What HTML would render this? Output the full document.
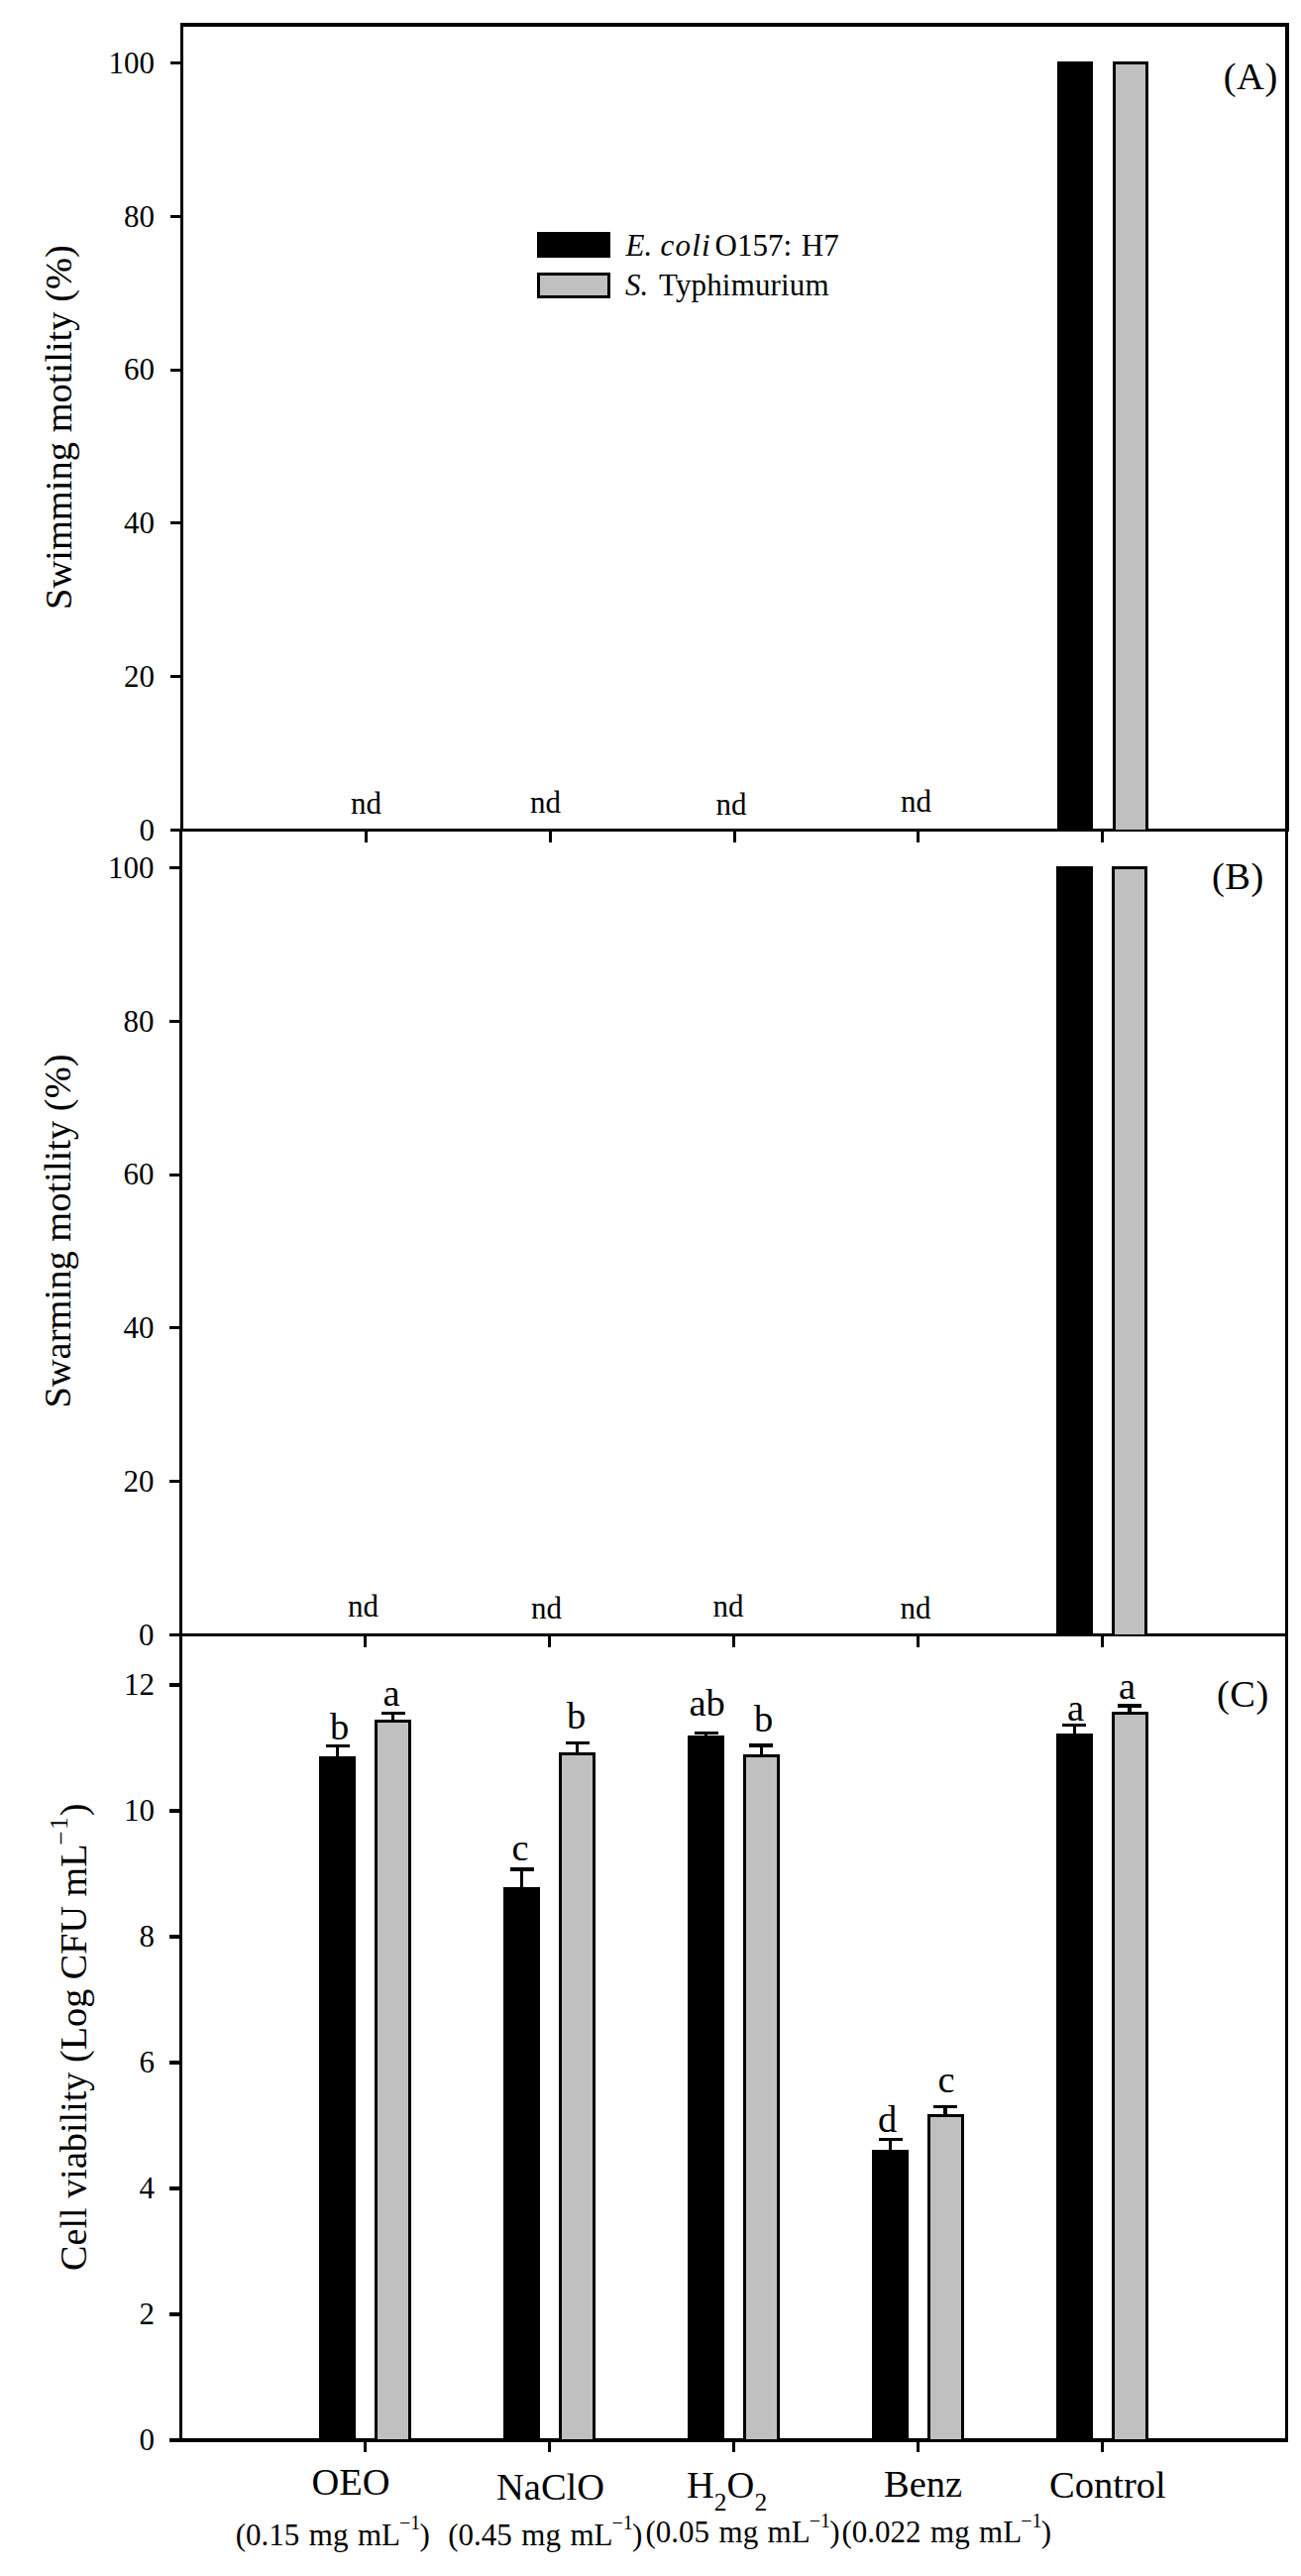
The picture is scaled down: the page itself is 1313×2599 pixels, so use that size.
<!DOCTYPE html>
<html lang="en"><head><meta charset="utf-8"><title>Motility and cell viability</title>
<style>
html,body{margin:0;padding:0;background:#fff}
svg{display:block}
text{font-family:"Liberation Serif","Times New Roman",serif;fill:#000}
</style></head><body>
<svg width="1313" height="2599" viewBox="0 0 1313 2599" shape-rendering="crispEdges">
<rect width="1313" height="2599" fill="#fff"/>
<rect x="182" y="23" width="1119" height="4" fill="#000"/>
<rect x="182" y="23" width="3" height="815" fill="#000"/>
<rect x="181" y="838" width="3" height="1626" fill="#000"/>
<rect x="1297" y="23" width="4" height="816" fill="#000"/>
<rect x="1297" y="839" width="3" height="1625" fill="#000"/>
<rect x="172" y="836" width="1129" height="3" fill="#000"/>
<rect x="171" y="1648" width="1129" height="3" fill="#000"/>
<rect x="171" y="2460" width="1129" height="4" fill="#000"/>
<rect x="172" y="62" width="10" height="3" fill="#000"/>
<text x="156" y="73.7" font-size="31" text-anchor="end">100</text>
<rect x="172" y="216.8" width="10" height="3" fill="#000"/>
<text x="156" y="228.5" font-size="31" text-anchor="end">80</text>
<rect x="172" y="371.6" width="10" height="3" fill="#000"/>
<text x="156" y="383.3" font-size="31" text-anchor="end">60</text>
<rect x="172" y="526.4" width="10" height="3" fill="#000"/>
<text x="156" y="538.1" font-size="31" text-anchor="end">40</text>
<rect x="172" y="681.2" width="10" height="3" fill="#000"/>
<text x="156" y="692.9" font-size="31" text-anchor="end">20</text>
<text x="156" y="847.7" font-size="31" text-anchor="end">0</text>
<rect x="171" y="874" width="10" height="3" fill="#000"/>
<text x="155.5" y="885.7" font-size="31" text-anchor="end">100</text>
<rect x="171" y="1028.8" width="10" height="3" fill="#000"/>
<text x="155.5" y="1040.5" font-size="31" text-anchor="end">80</text>
<rect x="171" y="1183.6" width="10" height="3" fill="#000"/>
<text x="155.5" y="1195.3" font-size="31" text-anchor="end">60</text>
<rect x="171" y="1338.4" width="10" height="3" fill="#000"/>
<text x="155.5" y="1350.1" font-size="31" text-anchor="end">40</text>
<rect x="171" y="1493.2" width="10" height="3" fill="#000"/>
<text x="155.5" y="1504.9" font-size="31" text-anchor="end">20</text>
<text x="155.5" y="1659.7" font-size="31" text-anchor="end">0</text>
<rect x="171" y="1698" width="10" height="4" fill="#000"/>
<text x="156" y="1709.7" font-size="31" text-anchor="end">12</text>
<rect x="171" y="1825" width="10" height="4" fill="#000"/>
<text x="156" y="1836.7" font-size="31" text-anchor="end">10</text>
<rect x="171" y="1952" width="10" height="4" fill="#000"/>
<text x="156" y="1963.7" font-size="31" text-anchor="end">8</text>
<rect x="171" y="2079" width="10" height="4" fill="#000"/>
<text x="156" y="2090.7" font-size="31" text-anchor="end">6</text>
<rect x="171" y="2206" width="10" height="4" fill="#000"/>
<text x="156" y="2217.7" font-size="31" text-anchor="end">4</text>
<rect x="171" y="2333" width="10" height="4" fill="#000"/>
<text x="156" y="2344.7" font-size="31" text-anchor="end">2</text>
<text x="156" y="2471.7" font-size="31" text-anchor="end">0</text>
<rect x="368" y="839" width="3" height="11" fill="#000"/>
<rect x="553.8" y="839" width="3" height="11" fill="#000"/>
<rect x="739.5" y="839" width="3" height="11" fill="#000"/>
<rect x="925.3" y="839" width="3" height="11" fill="#000"/>
<rect x="1111" y="839" width="3" height="11" fill="#000"/>
<rect x="367" y="1651" width="3" height="11" fill="#000"/>
<rect x="553" y="1651" width="3" height="11" fill="#000"/>
<rect x="739" y="1651" width="3" height="11" fill="#000"/>
<rect x="925" y="1651" width="3" height="11" fill="#000"/>
<rect x="1111" y="1651" width="3" height="11" fill="#000"/>
<rect x="367" y="2464" width="3" height="10" fill="#000"/>
<rect x="553" y="2464" width="3" height="10" fill="#000"/>
<rect x="739" y="2464" width="3" height="10" fill="#000"/>
<rect x="925" y="2464" width="3" height="10" fill="#000"/>
<rect x="1110.5" y="2464" width="3" height="10" fill="#000"/>
<rect x="1067" y="62" width="36" height="775" fill="#000"/>
<rect x="1123" y="62" width="36" height="775" fill="#000"/>
<rect x="1126" y="65" width="30" height="772" fill="#c0c0c0"/>
<rect x="1066" y="874" width="37" height="775" fill="#000"/>
<rect x="1122" y="874" width="36" height="775" fill="#000"/>
<rect x="1125" y="877" width="30" height="772" fill="#c0c0c0"/>
<rect x="322" y="1772" width="37" height="689" fill="#000"/>
<rect x="329" y="1760" width="24" height="3" fill="#000"/>
<rect x="339" y="1760" width="3" height="13" fill="#000"/>
<rect x="378" y="1735" width="37" height="726" fill="#000"/>
<rect x="381" y="1738" width="31" height="723" fill="#c0c0c0"/>
<rect x="385" y="1727" width="24" height="3" fill="#000"/>
<rect x="395" y="1727" width="3" height="9" fill="#000"/>
<rect x="508" y="1904" width="37" height="557" fill="#000"/>
<rect x="515" y="1884" width="24" height="4" fill="#000"/>
<rect x="525" y="1884" width="3" height="21" fill="#000"/>
<rect x="564" y="1768" width="37" height="693" fill="#000"/>
<rect x="567" y="1771" width="31" height="690" fill="#c0c0c0"/>
<rect x="571" y="1757" width="24" height="3" fill="#000"/>
<rect x="581" y="1757" width="3" height="12" fill="#000"/>
<rect x="694" y="1751" width="37" height="710" fill="#000"/>
<rect x="701" y="1747" width="24" height="3" fill="#000"/>
<rect x="711" y="1747" width="3" height="5" fill="#000"/>
<rect x="750" y="1770" width="37" height="691" fill="#000"/>
<rect x="753" y="1773" width="31" height="688" fill="#c0c0c0"/>
<rect x="756" y="1759" width="24" height="4" fill="#000"/>
<rect x="767" y="1759" width="3" height="12" fill="#000"/>
<rect x="880" y="2169" width="37" height="292" fill="#000"/>
<rect x="887" y="2157" width="24" height="3" fill="#000"/>
<rect x="897" y="2157" width="3" height="13" fill="#000"/>
<rect x="936" y="2133" width="37" height="328" fill="#000"/>
<rect x="939" y="2136" width="31" height="325" fill="#c0c0c0"/>
<rect x="942" y="2124" width="24" height="3" fill="#000"/>
<rect x="952" y="2124" width="4" height="10" fill="#000"/>
<rect x="1066" y="1749" width="37" height="712" fill="#000"/>
<rect x="1072" y="1739" width="24" height="3" fill="#000"/>
<rect x="1083" y="1739" width="3" height="11" fill="#000"/>
<rect x="1122" y="1727" width="37" height="734" fill="#000"/>
<rect x="1125" y="1730" width="31" height="731" fill="#c0c0c0"/>
<rect x="1128" y="1719" width="24" height="4" fill="#000"/>
<rect x="1138" y="1719" width="4" height="9" fill="#000"/>
<text x="333" y="1754.5" font-size="38.5" text-anchor="start">b</text>
<text x="386.5" y="1720.5" font-size="38.5" text-anchor="start">a</text>
<text x="516.5" y="1876.5" font-size="38.5" text-anchor="start">c</text>
<text x="572" y="1744" font-size="38.5" text-anchor="start">b</text>
<text x="695.5" y="1731" font-size="38.5" text-anchor="start">ab</text>
<text x="761" y="1747" font-size="38.5" text-anchor="start">b</text>
<text x="886" y="2151" font-size="38.5" text-anchor="start">d</text>
<text x="946.5" y="2111" font-size="38.5" text-anchor="start">c</text>
<text x="1077" y="1735.5" font-size="38.5" text-anchor="start">a</text>
<text x="1129" y="1713.5" font-size="38.5" text-anchor="start">a</text>
<text x="354" y="821" font-size="31" text-anchor="start">nd</text>
<text x="535" y="819.5" font-size="31" text-anchor="start">nd</text>
<text x="722.5" y="822" font-size="31" text-anchor="start">nd</text>
<text x="909" y="818.5" font-size="31" text-anchor="start">nd</text>
<text x="351" y="1631" font-size="31" text-anchor="start">nd</text>
<text x="536" y="1632.5" font-size="31" text-anchor="start">nd</text>
<text x="719.5" y="1630.5" font-size="31" text-anchor="start">nd</text>
<text x="908.5" y="1632.5" font-size="31" text-anchor="start">nd</text>
<text x="1234.8" y="89.8" font-size="38.5" text-anchor="start" letter-spacing="0.5">(A)</text>
<text x="1223" y="896.9" font-size="38.5" text-anchor="start" letter-spacing="0.5">(B)</text>
<text x="1228" y="1721.5" font-size="38.5" text-anchor="start" letter-spacing="0.5">(C)</text>
<rect x="542" y="234" width="74" height="26" fill="#000"/>
<rect x="542" y="275" width="74" height="26" fill="#000"/>
<rect x="545" y="278" width="68" height="23" fill="#c0c0c0"/>
<rect x="545" y="298" width="68" height="3" fill="#000"/>
<text y="257.5" font-size="31"><tspan x="631.5" font-style="italic">E.</tspan><tspan x="666.5" font-style="italic" letter-spacing="1.2">coli</tspan><tspan x="721.5">O157:</tspan><tspan x="801"> H7</tspan></text>
<text y="297.5" font-size="31"><tspan x="631" font-style="italic">S.</tspan><tspan x="665" letter-spacing="0.15">Typhimurium</tspan></text>
<text transform="translate(72 615) rotate(-90)" font-size="38.5">Swimming motility (%)</text>
<text transform="translate(71 1420.6) rotate(-90)" font-size="38.5">Swarming motility (%)</text>
<text transform="translate(87 2291) rotate(-90)" font-size="38.2">Cell viability (Log CFU mL<tspan font-size="25.5" dy="-17.3" dx="-1.5">−</tspan><tspan font-size="25.5" dy="-1.7" dx="1.5">1</tspan><tspan dy="19" dx="1">)</tspan></text>
<text x="314.5" y="2517" font-size="38.5" text-anchor="start">OEO</text>
<text x="501" y="2522" font-size="38.5" text-anchor="start">NaClO</text>
<text x="693" y="2520" font-size="38.5">H<tspan font-size="25.5" dy="12.8">2</tspan><tspan dy="-12.8">O</tspan><tspan font-size="25.5" dy="12.8">2</tspan></text>
<text x="892" y="2519" font-size="38.5" text-anchor="start">Benz</text>
<text x="1059" y="2519.5" font-size="38.5" text-anchor="start">Control</text>
<text x="237.8" y="2567.5" font-size="31" word-spacing="1.7">(0.15 mg mL<tspan font-size="20" dy="-15.5" dx="-1">−1</tspan><tspan dy="15.5" dx="-0.7">)</tspan></text>
<text x="452.3" y="2567.5" font-size="31" word-spacing="1.7">(0.45 mg mL<tspan font-size="20" dy="-15.5" dx="-1">−1</tspan><tspan dy="15.5" dx="-0.7">)</tspan></text>
<text x="651.5" y="2565" font-size="31" word-spacing="1.7">(0.05 mg mL<tspan font-size="20" dy="-15.5" dx="-1">−1</tspan><tspan dy="15.5" dx="-0.7">)</tspan></text>
<text x="849.5" y="2565" font-size="31" word-spacing="1.7">(0.022 mg mL<tspan font-size="20" dy="-15.5" dx="-1">−1</tspan><tspan dy="15.5" dx="-0.7">)</tspan></text>
</svg>
</body></html>
